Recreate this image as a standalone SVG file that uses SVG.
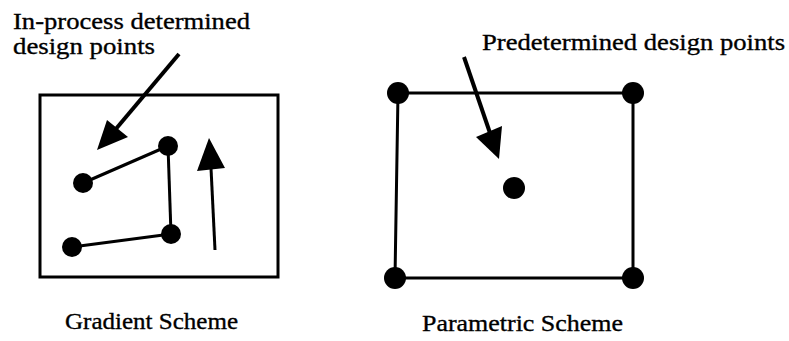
<svg xmlns="http://www.w3.org/2000/svg" width="789" height="341" viewBox="0 0 789 341">
<style>
.t{font-size:24px;fill:#000;stroke:#000;stroke-width:0.35}
.ln{stroke:#000;fill:none;stroke-width:3}
.thick{stroke-width:4}
.dot{fill:#000}
.hd{fill:#000;stroke:none}
</style>
<rect width="789" height="341" fill="#fff"/>
<g id="gradient">
<rect class="ln" x="40" y="95" width="238" height="182"/>
</g>
<g id="parametric">
<polyline class="ln" points="398,93 633,93 633,278 395,278 398,93"/>
</g>
<g id="connectors">
<line class="ln" x1="83" y1="183" x2="168" y2="146"/>
<line class="ln" x1="168" y1="146" x2="171" y2="234"/>
<line class="ln" x1="171" y1="234" x2="72" y2="247"/>
<line class="ln thick" x1="179" y1="54" x2="115" y2="130"/>
<polygon class="hd" points="97,150 107,120 128,137"/>
<line class="ln" x1="215" y1="250" x2="211" y2="168"/>
<polygon class="hd" points="209,138 197,171 225,168"/>
<line class="ln thick" x1="464" y1="57" x2="490" y2="133"/>
<polygon class="hd" points="499,159 476,137 502,126"/>
</g>
<g id="nodes">
<circle class="dot" cx="168" cy="146" r="10"/>
<circle class="dot" cx="83" cy="183" r="10"/>
<circle class="dot" cx="171" cy="234" r="10"/>
<circle class="dot" cx="72" cy="247" r="10"/>
<circle class="dot" cx="398" cy="93" r="11"/>
<circle class="dot" cx="633" cy="93" r="11"/>
<circle class="dot" cx="395" cy="278" r="11"/>
<circle class="dot" cx="633" cy="278" r="11"/>
<circle class="dot" cx="514" cy="188" r="11"/>
</g>
<g id="labels" font-family="Liberation Serif, Times New Roman, serif">
<text class="t" x="13" y="29" textLength="237" lengthAdjust="spacingAndGlyphs">In-process determined</text>
<text class="t" x="13" y="54" textLength="142" lengthAdjust="spacingAndGlyphs">design points</text>
<text class="t" x="482" y="50" textLength="303" lengthAdjust="spacingAndGlyphs">Predetermined design points</text>
<text class="t" x="65" y="329" textLength="173" lengthAdjust="spacingAndGlyphs">Gradient Scheme</text>
<text class="t" x="422" y="331" textLength="201" lengthAdjust="spacingAndGlyphs">Parametric Scheme</text>
</g>
</svg>
